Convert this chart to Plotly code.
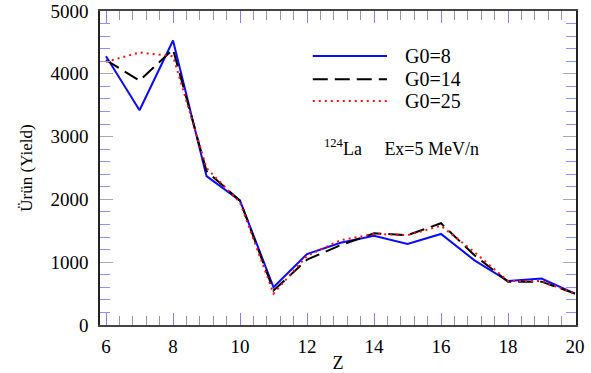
import plotly.graph_objects as go

Z = [6, 7, 8, 9, 10, 11, 12, 13, 14, 15, 16, 17, 18, 19, 20]
g0_8 = [4280, 3420, 4530, 2370, 1980, 600, 1130, 1310, 1420, 1290, 1450, 1030, 700, 740, 500]
g0_14 = [4220, 3890, 4390, 2450, 1980, 550, 1040, 1270, 1460, 1430, 1620, 1110, 690, 690, 500]
g0_25 = [4190, 4340, 4280, 2500, 1950, 500, 1100, 1350, 1450, 1430, 1580, 1160, 700, 700, 500]

names = ["G0=8", "G0=14", "G0=25"]
series = [g0_8, g0_14, g0_25]
colors = ["#0a0aff", "#000000", "#ff1010"]
dashes = ["solid", "15px,7px", "2px,4px"]

FONT = "Liberation Serif, Times New Roman, serif"

fig = go.Figure()
for n, s, c, d in zip(names, series, colors, dashes):
    fig.add_trace(go.Scatter(x=Z, y=s, mode="lines", name=n,
                             line=dict(color=c, width=2, dash=d),
                             showlegend=False))

# manual legend
leg_y = [0.857, 0.783, 0.713]
for n, c, d, yy in zip(names, colors, dashes, leg_y):
    fig.add_shape(type="line", xref="paper", yref="paper",
                  x0=0.447, x1=0.603, y0=yy, y1=yy,
                  line=dict(color=c, width=2, dash=d))
    fig.add_annotation(xref="paper", yref="paper", x=0.637, y=yy,
                       text=n, showarrow=False, xanchor="left", yanchor="middle",
                       font=dict(family=FONT, size=20, color="black"))

fig.add_annotation(xref="paper", yref="paper", x=0.466, y=0.566,
                   text="<sup>124</sup>La&nbsp;&nbsp;&nbsp;&nbsp;&nbsp;Ex=5 MeV/n",
                   showarrow=False, xanchor="left", yanchor="middle",
                   font=dict(family=FONT, size=18, color="black"))

fig.update_layout(
    width=591, height=373,
    margin=dict(l=100, r=15, t=11, b=48),
    plot_bgcolor="white", paper_bgcolor="white",
    font=dict(family=FONT, size=18, color="black"),
    xaxis=dict(
        range=[5.82, 20.03], tickmode="linear", tick0=6, dtick=2,
        ticks="inside", ticklen=12, tickcolor="#8080ff", tickwidth=1,
        minor=dict(tickmode="linear", tick0=6, dtick=0.4, ticks="inside",
                   ticklen=9, tickcolor="#999999", tickwidth=1),
        showline=True, linecolor="#444444", linewidth=1.5, mirror="allticks",
        showgrid=False, zeroline=False, automargin=False,
        title=dict(text="Z", font=dict(family=FONT, size=18), standoff=2),
        tickfont=dict(family=FONT, size=19),
        ticklabelstandoff=3,
    ),
    yaxis=dict(
        range=[0, 5000], tickmode="linear", tick0=0, dtick=1000,
        ticks="inside", ticklen=13, tickcolor="#aaaaaa", tickwidth=1,
        minor=dict(tickmode="linear", tick0=0, dtick=200, ticks="inside",
                   ticklen=10, tickcolor="#9090ff", tickwidth=1),
        showline=True, linecolor="#222222", linewidth=1.5, mirror="allticks",
        showgrid=False, zeroline=False, automargin=False,
        title=dict(text="Ürün (Yield)", font=dict(family=FONT, size=17), standoff=14),
        tickfont=dict(family=FONT, size=19),
        ticklabelstandoff=6,
    ),
)

fig.write_html("out.html")
